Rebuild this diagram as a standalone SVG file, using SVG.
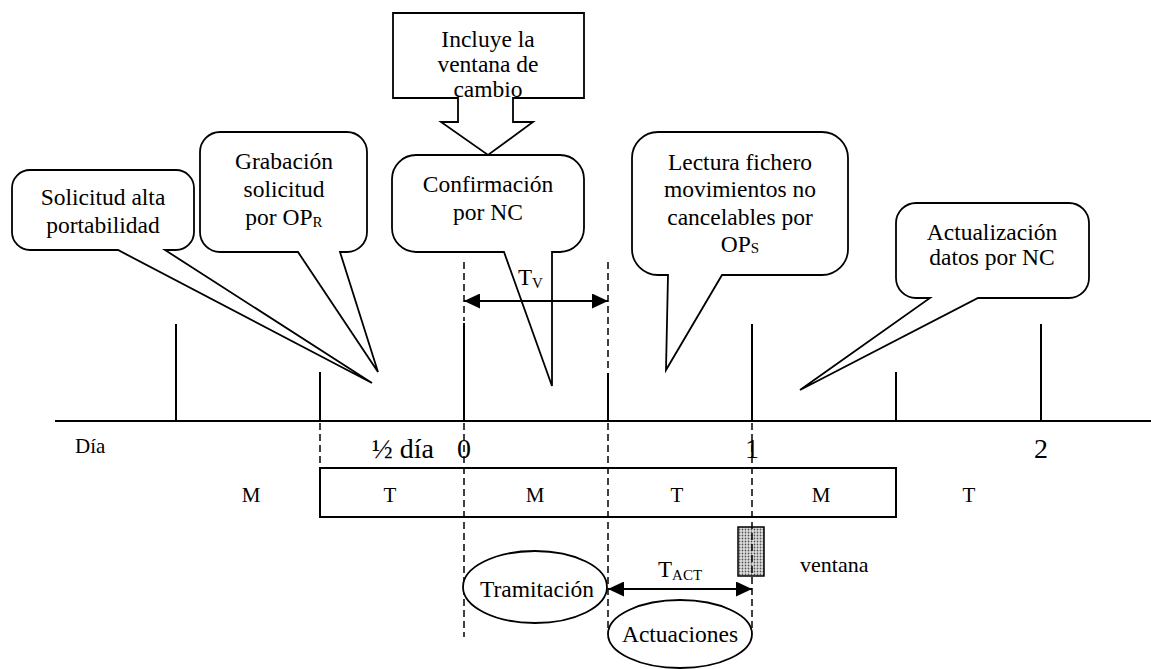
<svg xmlns="http://www.w3.org/2000/svg" width="1151" height="669" viewBox="0 0 1151 669">
<style>
text{font-family:"Liberation Serif","Times New Roman",serif;fill:#000}
.t{font-size:23.5px;text-anchor:middle}
.co{fill:#fff;stroke:#000;stroke-width:1.8;stroke-linejoin:miter}
.ln{stroke:#000;stroke-width:2;fill:none}
.dash{stroke:#000;stroke-width:1.5;stroke-dasharray:7 4;fill:none}
.lab{font-size:21px;text-anchor:middle}
.big{font-size:28px;text-anchor:middle}
.sub{font-size:15px}
</style>
<defs>
<marker id="ah" markerUnits="userSpaceOnUse" markerWidth="16" markerHeight="15" refX="16" refY="7.5" orient="auto-start-reverse">
<path d="M0,0 L16,7.5 L0,15 Z" fill="#000"/>
</marker>
<pattern id="dots" width="3" height="3" patternUnits="userSpaceOnUse">
<rect width="3" height="3" fill="#e0e0e0"/>
<circle cx="1.5" cy="1.5" r="0.9" fill="#555"/>
</pattern>
</defs>
<rect width="1151" height="669" fill="#fff"/>

<g id="callout-solicitud">
<path class="co" d="M30,170 H176 A18,18 0 0 1 194,188 V232 A18,18 0 0 1 176,250 H165 L372,383 L118,250 H30 A18,18 0 0 1 12,232 V188 A18,18 0 0 1 30,170 Z"/>
<text class="t" x="103" y="205">Solicitud alta</text>
<text class="t" x="103" y="233">portabilidad</text>
</g>
<g id="callout-grabacion">
<path class="co" d="M220,132 H347 A20,20 0 0 1 367,152 V232 A20,20 0 0 1 347,252 H340 L378,372 L298,252 H220 A20,20 0 0 1 200,232 V152 A20,20 0 0 1 220,132 Z"/>
<text class="t" x="284" y="169">Grabación</text>
<text class="t" x="284" y="197">solicitud</text>
<text class="t" x="284" y="225">por OP<tspan class="sub" dy="2">R</tspan></text>
</g>
<g id="callout-confirmacion">
<path class="co" d="M416,155 H560 A24,24 0 0 1 584,179 V228 A24,24 0 0 1 560,252 H552 L552,386 L504,252 H416 A24,24 0 0 1 392,228 V179 A24,24 0 0 1 416,155 Z"/>
<text class="t" x="488" y="192">Confirmación</text>
<text class="t" x="488" y="220">por NC</text>
</g>
<g id="callout-incluye">
<path class="co" d="M393,13 H584 V98 H513 V122 H533 L488,155 L441,122 H458 V98 H393 Z"/>
<text class="t" x="488" y="47">Incluye la</text>
<text class="t" x="488" y="72">ventana de</text>
<text class="t" x="488" y="97">cambio</text>
</g>
<g id="callout-lectura">
<path class="co" d="M658,132 H822 A26,26 0 0 1 848,158 V249 A26,26 0 0 1 822,275 H722 L666,370 L668,275 H658 A26,26 0 0 1 632,249 V158 A26,26 0 0 1 658,132 Z"/>
<text class="t" x="740" y="170">Lectura fichero</text>
<text class="t" x="740" y="197">movimientos no</text>
<text class="t" x="740" y="225">cancelables por</text>
<text class="t" x="740" y="252">OP<tspan class="sub" dy="1">S</tspan></text>
</g>
<g id="callout-actualizacion">
<path class="co" d="M916,203 H1069 A20,20 0 0 1 1089,223 V278 A20,20 0 0 1 1069,298 H978 L800,390 L930,298 H916 A20,20 0 0 1 896,278 V223 A20,20 0 0 1 916,203 Z"/>
<text class="t" x="992" y="240">Actualización</text>
<text class="t" x="992" y="265">datos por NC</text>
</g>

<g id="timeline">
<line class="ln" x1="55" y1="421" x2="1151" y2="421"/>
<line class="ln" x1="176" y1="324" x2="176" y2="421"/>
<line class="ln" x1="320" y1="372" x2="320" y2="421"/>
<line class="ln" x1="464" y1="323" x2="464" y2="421"/>
<line class="ln" x1="608" y1="373" x2="608" y2="421"/>
<line class="ln" x1="752" y1="324" x2="752" y2="421"/>
<line class="ln" x1="896" y1="372" x2="896" y2="421"/>
<line class="ln" x1="1041" y1="324" x2="1041" y2="421"/>
<line class="dash" x1="464" y1="262" x2="464" y2="321"/>
<line class="dash" x1="608" y1="262" x2="608" y2="371"/>
<line class="dash" x1="320" y1="423" x2="320" y2="468"/>
<rect class="ln" x="320" y="468" width="576" height="49"/>
<line class="dash" x1="464" y1="423" x2="464" y2="637"/>
<line class="dash" x1="608" y1="423" x2="608" y2="632"/>
<text x="75" y="453" font-size="21">Día</text>
<text x="434" y="458" font-size="28" text-anchor="end">½ día</text>
<text class="big" x="464" y="458">0</text>
<text class="big" x="752" y="458">1</text>
<text class="big" x="1041" y="458">2</text>
<text class="lab" x="251" y="502">M</text>
<text class="lab" x="390" y="502">T</text>
<text class="lab" x="535" y="502">M</text>
<text class="lab" x="677" y="502">T</text>
<text class="lab" x="821" y="502">M</text>
<text class="lab" x="969" y="502">T</text>
</g>

<g id="ventana">
<rect x="738" y="527" width="26" height="49" fill="url(#dots)" stroke="#000" stroke-width="1.5"/>
<text x="800" y="572" font-size="22">ventana</text>
</g>
<line class="dash" x1="752" y1="423" x2="752" y2="630"/>

<g id="tramitacion">
<ellipse cx="535" cy="587" rx="72" ry="36" fill="#fff" stroke="#000" stroke-width="1.8"/>
<text class="t" x="537" y="597">Tramitación</text>
</g>
<g id="actuaciones">
<ellipse cx="680" cy="634" rx="72" ry="34" fill="#fff" stroke="#000" stroke-width="1.8"/>
<text class="t" x="680" y="642">Actuaciones</text>
</g>

<g id="connectors">
<line x1="464" y1="301" x2="608" y2="301" stroke="#000" stroke-width="2" marker-start="url(#ah)" marker-end="url(#ah)"/>
<text x="518" y="285" font-size="23">T<tspan class="sub" dy="3">V</tspan></text>
<line x1="608" y1="589" x2="752" y2="589" stroke="#000" stroke-width="2" marker-start="url(#ah)" marker-end="url(#ah)"/>
<text x="658" y="577" font-size="23">T<tspan class="sub" dy="3">ACT</tspan></text>
</g>
</svg>
